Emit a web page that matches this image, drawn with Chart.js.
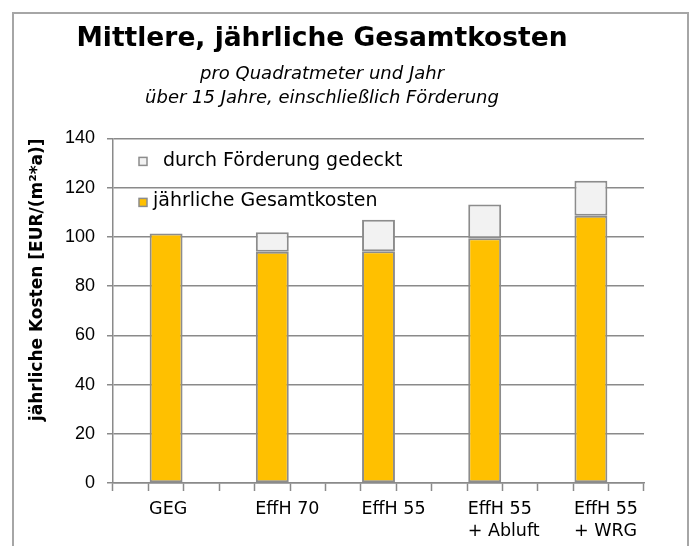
<!DOCTYPE html>
<html>
<head>
<meta charset="utf-8">
<script src="https://cdn.jsdelivr.net/npm/chart.js@4.4.1/dist/chart.umd.min.js"></script>
<style>
    html, body { margin: 0; padding: 0; background: #fff; }
    #wrap { position: relative; width: 692px; height: 546px; overflow: hidden; }
    #kostenChart { position: absolute; left: 0; top: 0; }
    #frame { position: absolute; left: 12px; top: 12px; width: 673px; height: 600px;
             border: 2px solid #a6a6a6; pointer-events: none; }
</style>
</head>
<body>
<div id="wrap">
    <canvas id="kostenChart" width="692" height="546"></canvas>
    <div id="frame"></div>
</div>
<script>
// Werte (EUR pro m² und Jahr)
const categories = ['GEG', 'EffH 70', 'EffH 55', ['EffH 55', '+ Abluft'], ['EffH 55', '+ WRG']];
const gesamtkosten = [101.4, 94.0, 94.2, 99.4, 108.6];
const foerderung = [0, 7.9, 12.8, 13.7, 14.2];
const yTicks = [0, 20, 40, 60, 80, 100, 120, 140];

const seriesNames = ['jährliche Gesamtkosten', 'durch Förderung gedeckt'];

// Excel-Vorlage: jede Kategorie belegt drei Plätze, Balken in der Mitte
const slots = 3;
const labels = [];
const kostenSlots = [];
const foerderSlots = [];
categories.forEach((cat, i) => {
    for (let s = 0; s < slots; s++) {
        const mid = s === 1;
        labels.push(mid ? cat : '');
        kostenSlots.push(mid ? gesamtkosten[i] : null);
        foerderSlots.push(mid ? foerderung[i] : null);
    }
});

const gridGrey = '#8a8a8a';
const centuryLike = "'DejaVu Sans', sans-serif";

// Legende innerhalb der Zeichenfläche, wie im Original
const innerLegend = {
    id: 'innerLegend',
    afterDraw(chart) {
        const ctx = chart.ctx;
        const a = chart.chartArea;
        const items = [
            { ds: chart.data.datasets[1], boxY: a.top + 19, baseY: a.top + 28, textX: a.left + 50 },
            { ds: chart.data.datasets[0], boxY: a.top + 60, baseY: a.top + 68, textX: a.left + 40 }
        ];
        ctx.save();
        ctx.font = "19px " + centuryLike;
        ctx.textBaseline = 'alphabetic';
        ctx.textAlign = 'left';
        items.forEach(it => {
            ctx.fillStyle = it.ds.backgroundColor;
            ctx.strokeStyle = it.ds.borderColor;
            ctx.lineWidth = 1.5;
            ctx.fillRect(a.left + 26, it.boxY, 8, 8);
            ctx.strokeRect(a.left + 26, it.boxY, 8, 8);
            ctx.fillStyle = '#000';
            ctx.fillText(it.ds.label, it.textX, it.baseY);
        });
        ctx.restore();
    }
};

const ctx = document.getElementById('kostenChart').getContext('2d');
new Chart(ctx, {
    type: 'bar',
    data: {
        labels: labels,
        datasets: [{
            label: seriesNames[0],
            data: kostenSlots,
            backgroundColor: '#FFC000',
            borderColor: '#8c8c8c',
            borderWidth: 2,
            borderSkipped: false
        }, {
            label: seriesNames[1],
            data: foerderSlots,
            backgroundColor: '#F2F2F2',
            borderColor: '#8c8c8c',
            borderWidth: 2,
            borderSkipped: false
        }]
    },
    options: {
        responsive: false,
        animation: false,
        barPercentage: 0.93,
        categoryPercentage: 1.0,
        layout: { padding: { left: 0, right: 48, top: 0, bottom: 1 } },
        plugins: {
            legend: { display: false },
            tooltip: { enabled: false },
            title: {
                display: true,
                text: 'Mittlere, jährliche Gesamtkosten',
                color: '#000',
                font: { family: centuryLike, size: 26.5, weight: 'bold', lineHeight: 1.2 },
                padding: { top: 23, bottom: 2 }
            },
            subtitle: {
                display: true,
                text: ['pro Quadratmeter und Jahr', 'über 15 Jahre, einschließlich Förderung'],
                color: '#000',
                font: { family: centuryLike, size: 18, style: 'italic', lineHeight: 1.35 },
                padding: { top: 5, bottom: 28 }
            }
        },
        scales: {
            x: {
                stacked: true,
                afterFit(scale) { scale.height = 62; },
                grid: {
                    drawOnChartArea: false,
                    drawTicks: true,
                    tickLength: 8,
                    tickWidth: 1.5,
                    tickColor: gridGrey,
                    offset: true
                },
                border: { display: true, color: gridGrey, width: 1.5 },
                ticks: {
                    autoSkip: false,
                    maxRotation: 0,
                    minRotation: 0,
                    align: 'start',
                    labelOffset: -17,
                    padding: 8,
                    color: '#000',
                    font: { family: centuryLike, size: 17.5, lineHeight: 1.25 }
                }
            },
            y: {
                stacked: true,
                min: 0,
                max: 140,
                afterFit(scale) { scale.width = 113; },
                afterBuildTicks(scale) { scale.ticks = yTicks.map(v => ({ value: v })); },
                grid: {
                    color: gridGrey,
                    lineWidth: 1.5,
                    tickLength: 6,
                    drawTicks: true
                },
                border: { display: true, color: gridGrey, width: 1.5 },
                ticks: {
                    padding: 12,
                    color: '#000',
                    font: { family: "'Liberation Sans', Arial, sans-serif", size: 18 }
                },
                title: {
                    display: true,
                    align: 'end',
                    text: 'jährliche Kosten [EUR/(m²*a)]',
                    color: '#000',
                    font: { family: centuryLike, size: 17, weight: 'bold' },
                    padding: { top: 27, bottom: 0 }
                }
            }
        }
    },
    plugins: [innerLegend]
});
</script>
</body>
</html>
